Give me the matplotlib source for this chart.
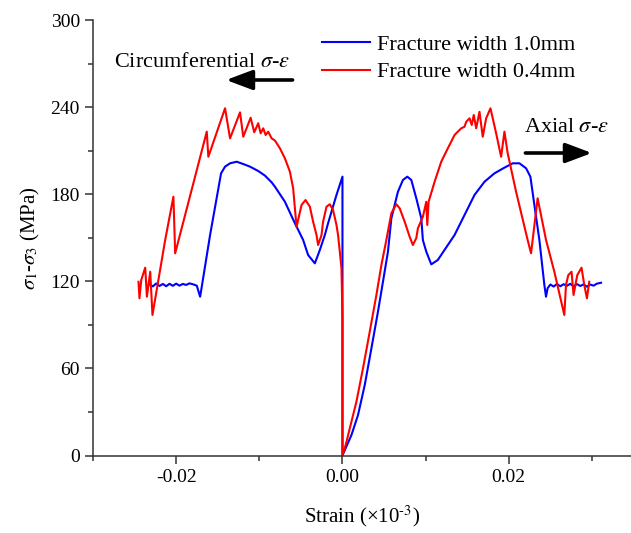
import numpy as np
import matplotlib
matplotlib.use("Agg")
import matplotlib.pyplot as plt

plt.rcParams['font.family'] = ['Liberation Serif', 'DejaVu Serif']
plt.rcParams['mathtext.fontset'] = 'stix'
plt.rcParams['axes.unicode_minus'] = False

# fracture width 1.0 mm, circumferential branch (left end -> origin)
blue_circ_x = [-0.02321, -0.0228, -0.0224, -0.0220, -0.0216, -0.0212, -0.0208, -0.0204,
               -0.0200, -0.0196, -0.0192, -0.0188, -0.0184, -0.0180, -0.01752, -0.01712,
               -0.01692, -0.01592, -0.01460, -0.01412, -0.01352, -0.01272, -0.01193,
               -0.01112, -0.01013, -0.00932, -0.00852, -0.00812, -0.00692, -0.00572,
               -0.00473, -0.00413, -0.00332, -0.00272, -0.00212, -0.00173, -0.00072,
               0.0, 0.0]
blue_circ_y = [117.9, 116.5, 118.5, 116.8, 118.2, 116.6, 118.3, 116.9,
               118.4, 117.0, 118.2, 117.5, 118.6, 118.0, 117.0, 109.4,
               116.3, 151.9, 194.4, 199.0, 201.3, 202.4, 200.8,
               199.0, 196.0, 192.8, 188.2, 185.2, 174.8, 160.0,
               148.5, 138.1, 132.4, 141.6, 151.9, 160.0, 179.5,
               192.1, 0.0]

# fracture width 1.0 mm, axial branch (origin -> right end)
blue_axial_x = [0.0, 0.00108, 0.00187, 0.00268, 0.00348, 0.00427, 0.00487, 0.00547,
                0.00588, 0.00667, 0.00727, 0.00780, 0.00828, 0.00888, 0.00948, 0.00967,
                0.01008, 0.01068, 0.01147, 0.01267, 0.01348, 0.01468, 0.01588, 0.01708,
                0.01828, 0.01948, 0.02047, 0.02128, 0.02208, 0.02260, 0.02308, 0.02368,
                0.02428, 0.02448, 0.02467, 0.0250, 0.0254, 0.0258, 0.0262, 0.0266,
                0.0270, 0.0274, 0.0278, 0.0282, 0.0286, 0.0290, 0.0294, 0.0298,
                0.0302, 0.0306, 0.0311]
blue_axial_y = [0.0, 14.1, 27.9, 48.6, 73.8, 99.1, 119.7, 140.4,
                163.4, 181.7, 189.8, 192.1, 189.8, 177.2, 163.4, 148.5,
                140.4, 131.7, 134.7, 145.0, 151.9, 165.7, 179.5, 188.6,
                194.4, 198.3, 201.3, 201.3, 197.9, 192.1, 172.6, 148.5,
                117.5, 109.4, 115.2, 117.8, 116.4, 118.2, 116.6, 118.0,
                116.9, 118.3, 116.5, 118.1, 116.8, 117.9, 116.3, 117.8,
                117.0, 118.4, 119.0]

# fracture width 0.4 mm, circumferential branch
red_circ_x = [-0.02453, -0.02441, -0.02420, -0.02372, -0.02352, -0.02312, -0.02285,
              -0.02132, -0.02033, -0.02012, -0.01632, -0.01613, -0.01412, -0.01352,
              -0.01232, -0.01193, -0.01104, -0.01061, -0.01013, -0.00984, -0.00953,
              -0.00924, -0.00893, -0.00852, -0.00812, -0.00752, -0.00692, -0.00632,
              -0.00593, -0.00572, -0.00552, -0.00492, -0.00444, -0.00392, -0.00353,
              -0.00312, -0.00293, -0.00252, -0.00233, -0.00192, -0.00152, -0.00113,
              -0.00072, -0.00053, -0.00032, -0.00012, 0.0, 0.0]
red_circ_y = [119.7, 108.3, 120.9, 129.4, 109.4, 126.6, 96.8,
              148.5, 178.3, 139.3, 223.1, 205.8, 239.2, 218.5,
              236.4, 219.6, 232.7, 222.7, 228.9, 222.0, 225.4,
              220.8, 223.1, 218.5, 217.0, 211.6, 204.7, 195.5,
              184.1, 170.3, 157.6, 172.6, 176.0, 171.4, 161.1,
              151.9, 145.0, 151.9, 161.1, 171.4, 173.1, 169.1,
              158.8, 151.9, 140.4, 129.0, 94.5, 0.0]

# fracture width 0.4 mm, axial branch
red_axial_x = [0.0, 0.00040, 0.00088, 0.00168, 0.00247, 0.00328, 0.00408, 0.00468, 0.00528,
               0.00588, 0.00648, 0.00688, 0.00748, 0.00808, 0.00847, 0.00888, 0.00907,
               0.00967, 0.01008, 0.01020, 0.01036, 0.01108, 0.01188, 0.01267, 0.01348,
               0.01387, 0.01428, 0.01468, 0.01488, 0.01528, 0.01555, 0.01579, 0.01608,
               0.01648, 0.01687, 0.01728, 0.01780, 0.01848, 0.01908, 0.01948, 0.01987,
               0.02088, 0.02227, 0.02268, 0.02347, 0.02448, 0.02548, 0.02668, 0.02688,
               0.02716, 0.02755, 0.02779, 0.02824, 0.02875, 0.02908, 0.02940, 0.02968]
red_axial_y = [0.0, 7.5, 18.7, 37.1, 60.1, 85.3, 110.6, 131.2, 148.5,
               166.9, 173.1, 170.3, 161.1, 150.7, 145.0, 149.8, 156.5,
               164.5, 174.8, 158.8, 174.8, 188.6, 202.4, 211.6, 220.8,
               223.1, 225.4, 226.5, 229.9, 232.3, 227.7, 234.6, 225.4,
               236.8, 219.6, 232.3, 239.2, 222.0, 205.8, 223.1, 208.2,
               181.7, 148.5, 139.3, 177.2, 148.5, 126.6, 96.8, 117.5,
               124.3, 126.6, 110.6, 124.3, 129.4, 117.5, 108.3, 119.7]

blue_x = np.array(blue_circ_x + blue_axial_x)
blue_y = np.array(blue_circ_y + blue_axial_y)
red_x = np.array(red_circ_x + red_axial_x)
red_y = np.array(red_circ_y + red_axial_y)

fig = plt.figure(figsize=(6.31, 5.33), dpi=100)
ax = fig.add_axes([0.1474, 0.1454, 0.8526, 0.817])

ax.plot(blue_x, blue_y, color='#0000ff', lw=1.5, label='Fracture width 1.0mm')
ax.plot(red_x, red_y, color='#ff0000', lw=1.5, label='Fracture width 0.4mm')

ax.set_xlim(-0.03, 0.0347)
ax.set_ylim(0, 300)
ax.set_xticks([-0.02, 0.0, 0.02])
ax.set_xticklabels(['-0.02', '0.00', '0.02'])
ax.set_xticks([-0.03, -0.01, 0.01, 0.03], minor=True)
ax.set_yticks(np.arange(0, 301, 60))
ax.set_yticks(np.arange(30, 300, 60), minor=True)

for side in ['top', 'right']:
    ax.spines[side].set_visible(False)
for side in ['left', 'bottom']:
    ax.spines[side].set_linewidth(1.1)
    ax.spines[side].set_color('#333333')
ax.tick_params(which='major', direction='out', length=6, width=1.1, color='#333333', labelsize=14)
ax.tick_params(which='minor', direction='out', length=3.5, width=1.1, color='#333333')

ax.set_xlabel('Strain (×10$^{\\text{-}3}$)', fontsize=15, labelpad=13)
ax.set_ylabel('$\\sigma_1$-$\\sigma_3$ (MPa)', fontsize=15, labelpad=6)

ax.text(-0.0275, 271, 'Circumferential $\\sigma$-$\\varepsilon$', fontsize=16, va='center', ha='left')
ax.annotate('', xy=(-0.0140, 258.7), xytext=(-0.0060, 258.7),
            arrowprops=dict(arrowstyle='-|>,head_length=1.6,head_width=0.6', lw=2.6,
                            color='k', mutation_scale=10, shrinkA=0, shrinkB=0))
ax.text(0.0218, 226.3, 'Axial $\\sigma$-$\\varepsilon$', fontsize=16, va='center', ha='left')
ax.annotate('', xy=(0.0300, 208.4), xytext=(0.0220, 208.4),
            arrowprops=dict(arrowstyle='-|>,head_length=1.6,head_width=0.6', lw=2.6,
                            color='k', mutation_scale=10, shrinkA=0, shrinkB=0))

ax.legend(loc='upper left', bbox_to_anchor=(0.40, 0.998), frameon=False, fontsize=16,
          handlelength=2.2, handletextpad=0.3, labelspacing=0.32, borderaxespad=0.2)

fig.savefig('out.png', dpi=100)
